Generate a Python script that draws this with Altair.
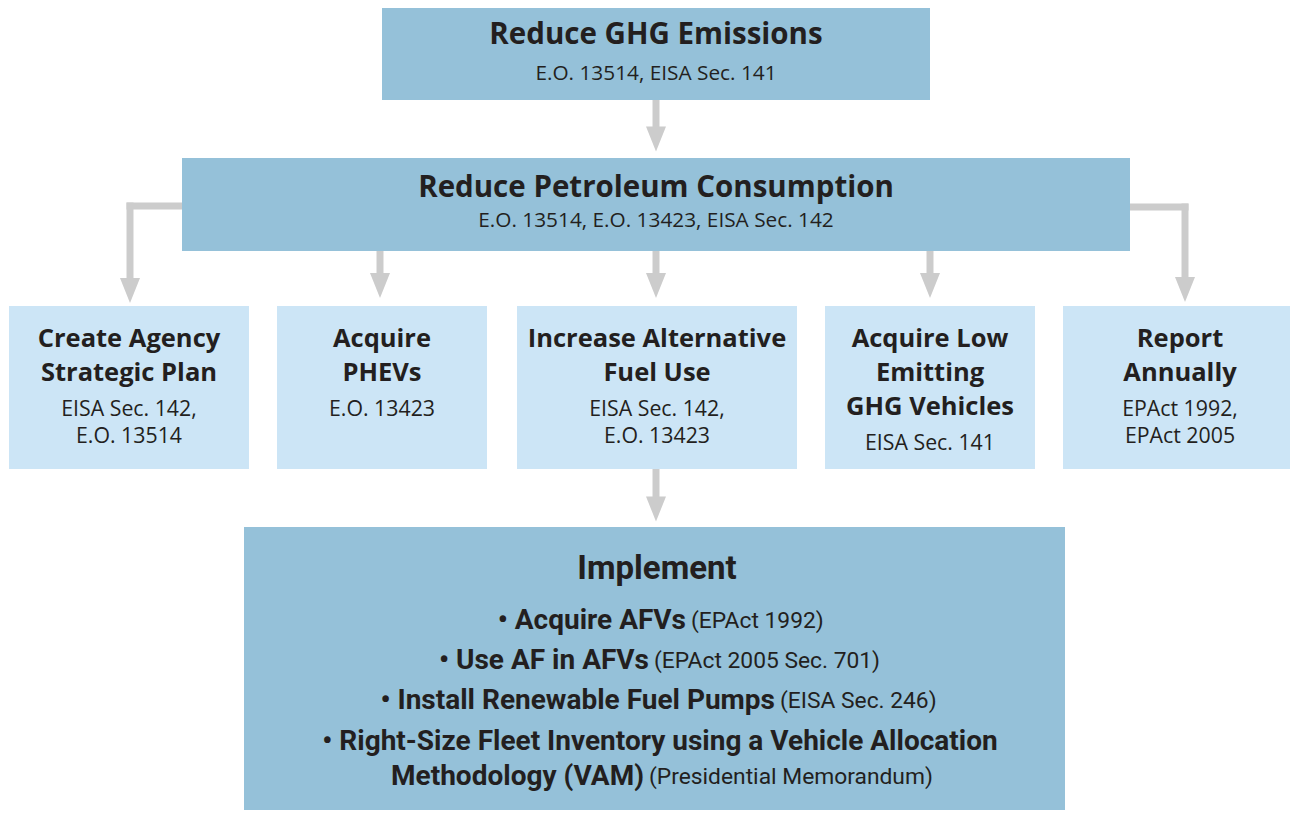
import altair as alt
import pandas as pd

# ---------------- content ----------------
top_title = "Reduce GHG Emissions"
top_refs = "E.O. 13514, EISA Sec. 141"
mid_title = "Reduce Petroleum Consumption"
mid_refs = "E.O. 13514, E.O. 13423, EISA Sec. 142"
goal_titles = [
    ["Create Agency", "Strategic Plan"],
    ["Acquire", "PHEVs"],
    ["Increase Alternative", "Fuel Use"],
    ["Acquire Low", "Emitting", "GHG Vehicles"],
    ["Report", "Annually"],
]
goal_refs = [
    ["EISA Sec. 142,", "E.O. 13514"],
    ["E.O. 13423"],
    ["EISA Sec. 142,", "E.O. 13423"],
    ["EISA Sec. 141"],
    ["EPAct 1992,", "EPAct 2005"],
]
impl_title = "Implement"
impl_actions = [
    "• Acquire AFVs",
    "• Use AF in AFVs",
    "• Install Renewable Fuel Pumps",
    "• Right-Size Fleet Inventory using a Vehicle Allocation",
    "Methodology (VAM)",
]
impl_refs = [
    "(EPAct 1992)",
    "(EPAct 2005 Sec. 701)",
    "(EISA Sec. 246)",
    "",
    "(Presidential Memorandum)",
]

# ---------------- layout (pixel space of the page) ----------------
DARK = "#95C1D9"
LIGHT = "#CCE5F6"
ARROW = "#CCCCCC"
INK = "#231F20"
TITLE_FONT = "Open Sans"
NARROW_FONT = "Roboto"

top_box = (382, 930, 7, 100)
mid_box = (182, 1130, 158, 251)
goal_boxes = [(9, 249), (277, 487), (517, 797), (825, 1035), (1063, 1298)]
goal_y = (306, 469)
impl_box = (244, 1065, 527, 818)

rects = [dict(x=top_box[0], x2=top_box[1], y=top_box[2], y2=top_box[3], c=DARK),
         dict(x=mid_box[0], x2=mid_box[1], y=mid_box[2], y2=mid_box[3], c=DARK),
         dict(x=impl_box[0], x2=impl_box[1], y=impl_box[2], y2=impl_box[3], c=DARK)]
for (a, b) in goal_boxes:
    rects.append(dict(x=a, x2=b, y=goal_y[0], y2=goal_y[1], c=LIGHT))
rect_df = pd.DataFrame(rects)

# arrows: shafts and heads
shafts = [
    dict(x=656, x2=656, y=100, y2=128),
    dict(x=182, x2=126.5, y=206, y2=206),
    dict(x=130, x2=130, y=202.5, y2=280),
    dict(x=1130, x2=1188.5, y=207, y2=207),
    dict(x=1185, x2=1185, y=203.5, y2=280),
    dict(x=656, x2=656, y=469, y2=498),
]
for xc in (380, 656, 930):
    shafts.append(dict(x=xc, x2=xc, y=251, y2=276))
shaft_df = pd.DataFrame(shafts)
heads_df = pd.DataFrame([
    dict(x=656, tip=151.5), dict(x=130, tip=303), dict(x=380, tip=298),
    dict(x=656, tip=298), dict(x=930, tip=298), dict(x=1185, tip=302),
    dict(x=656, tip=521.5),
])
HEAD_H = 25
heads_df["y"] = heads_df["tip"] - HEAD_H / 2

# texts
bold_c, norm_c = [], []
bold_c.append(dict(x=656, y=35, t=top_title, s=29.5))
norm_c.append(dict(x=656, y=74, t=top_refs, s=20.8))
bold_c.append(dict(x=656, y=188, t=mid_title, s=29.5))
norm_c.append(dict(x=656, y=221, t=mid_refs, s=20.8))
for (a, b), tl, rl in zip(goal_boxes, goal_titles, goal_refs):
    cx = (a + min(b, 1297)) / 2
    y = 339
    for line in tl:
        bold_c.append(dict(x=cx, y=y, t=line, s=25.5))
        y += 34
    y = y - 34 + 37
    for line in rl:
        norm_c.append(dict(x=cx, y=y, t=line, s=21.3))
        y += 27

impl_bold_c = [dict(x=657, y=569, t=impl_title, s=33)]
split_x = [686, 649, 775, None, 644]
line_y = [621, 661, 701, 742, 777]
impl_bold_r, impl_norm_l = [], []
for act, ref, sx, ly in zip(impl_actions, impl_refs, split_x, line_y):
    if sx is None:
        impl_bold_c.append(dict(x=660, y=ly, t=act, s=28))
    else:
        impl_bold_r.append(dict(x=sx, y=ly, t=act, s=28))
        impl_norm_l.append(dict(x=sx + 5, y=ly, t=ref, s=22.8))

X = alt.Scale(domain=[8, 1290], range=[0, 1282])
Y = alt.Scale(domain=[8, 810], range=[0, 802])


def xy(df_x="x", df_y="y"):
    return dict(x=alt.X(f"{df_x}:Q", scale=X, axis=None),
                y=alt.Y(f"{df_y}:Q", scale=Y, axis=None))


boxes = alt.Chart(rect_df).mark_rect().encode(
    x=alt.X("x:Q", scale=X, axis=None), x2="x2:Q",
    y=alt.Y("y:Q", scale=Y, axis=None), y2="y2:Q",
    color=alt.Color("c:N", scale=None, legend=None),
)
shaft_layer = alt.Chart(shaft_df).mark_rule(color=ARROW, strokeWidth=7, strokeCap="butt").encode(
    x=alt.X("x:Q", scale=X, axis=None), x2="x2:Q",
    y=alt.Y("y:Q", scale=Y, axis=None), y2="y2:Q",
)
head_layer = alt.Chart(heads_df).mark_point(
    shape="M-0.8,-1L0.8,-1L0,1Z", filled=True, fill=ARROW, opacity=1, strokeWidth=0
).encode(**xy(), size=alt.value(HEAD_H * HEAD_H))


def text_layer(rows, weight, align, font):
    return alt.Chart(pd.DataFrame(rows)).mark_text(
        font=font, fontWeight=weight, align=align, baseline="middle", color=INK
    ).encode(**xy(), text="t:N", size=alt.Size("s:Q", scale=None, legend=None))


chart = alt.layer(
    boxes, shaft_layer, head_layer,
    text_layer(bold_c, "bold", "center", TITLE_FONT),
    text_layer(norm_c, "normal", "center", TITLE_FONT),
    text_layer(impl_bold_c, "bold", "center", NARROW_FONT),
    text_layer(impl_bold_r, "bold", "right", NARROW_FONT),
    text_layer(impl_norm_l, "normal", "left", NARROW_FONT),
).properties(
    width=1282, height=802, padding=0, autosize=alt.AutoSizeParams(type="none"),
    background="white",
).configure_view(stroke=None)

chart.save("out.html", embed_options={"renderer": "svg", "actions": False})
